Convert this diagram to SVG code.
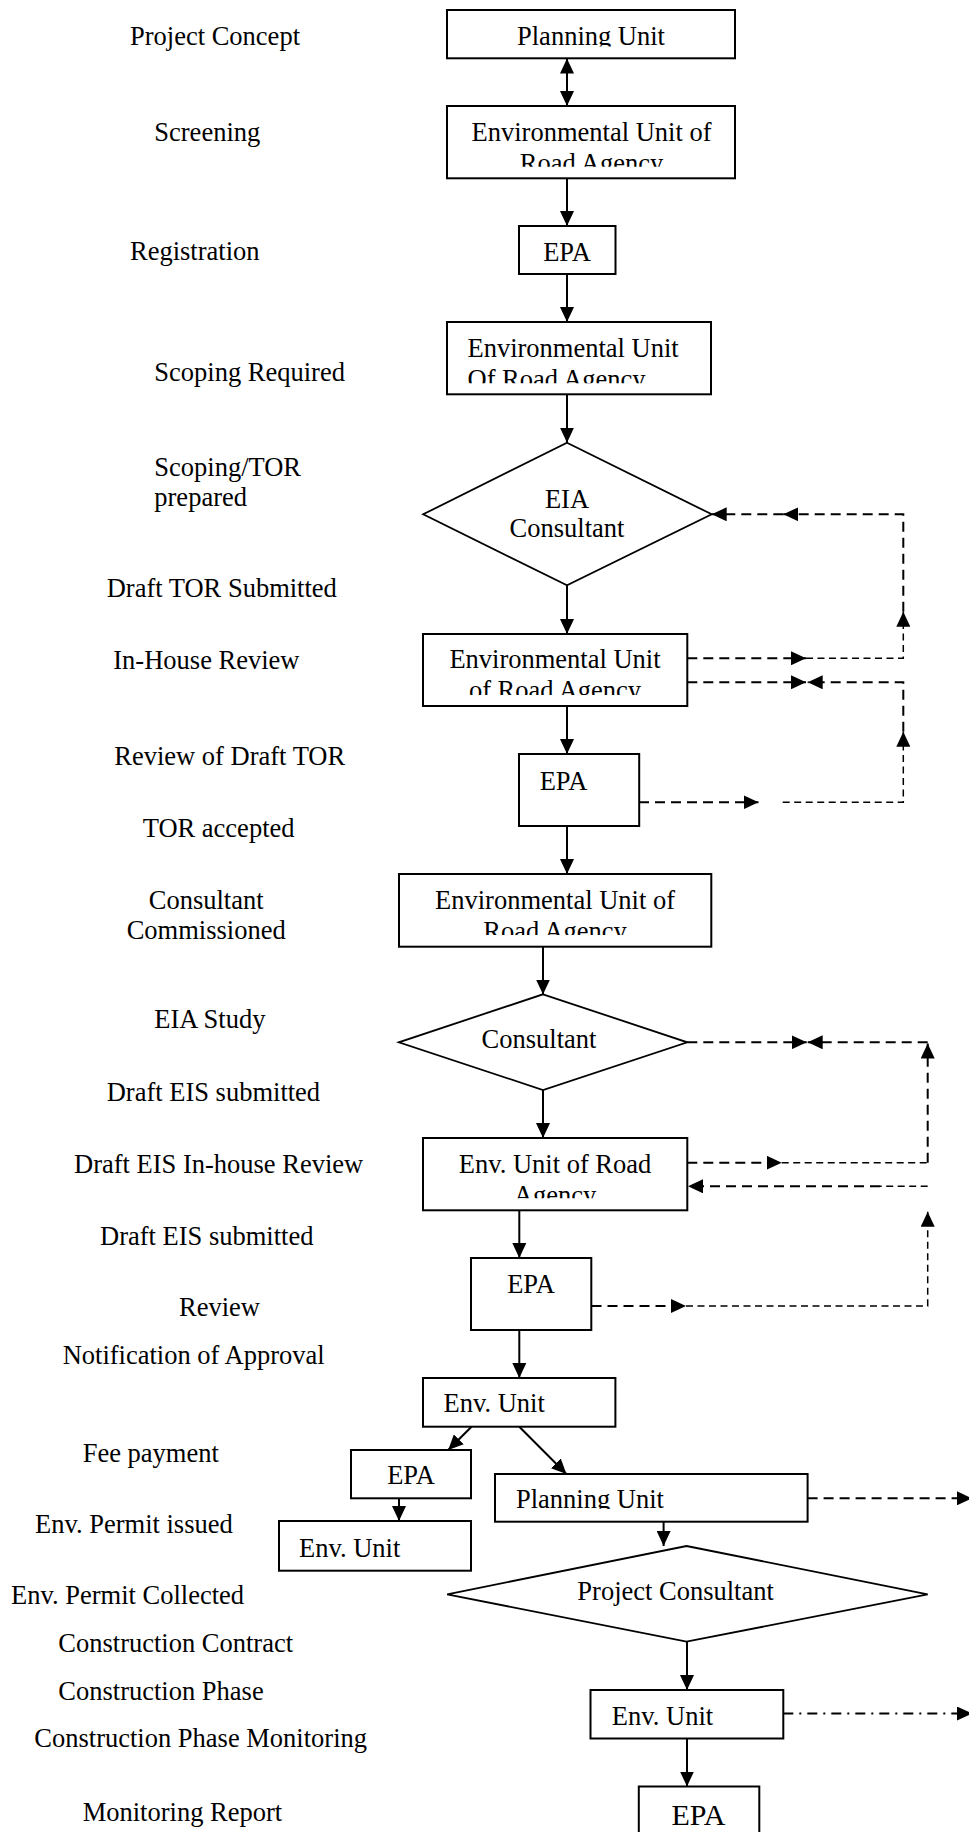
<svg xmlns="http://www.w3.org/2000/svg" width="969" height="1832" viewBox="0 0 969 1832">
  <style>
    text { font-family: "Liberation Serif", "Times New Roman", serif; font-size: 26.5px; fill: #000; }
    .c { text-anchor: middle; }
    .box { fill: #fff; stroke: #000; stroke-width: 2; }
    .dia { fill: #fff; stroke: #000; stroke-width: 1.8; }
    .flow { fill: none; stroke: #000; stroke-width: 2; }
    .dash { fill: none; stroke: #000; stroke-width: 2; stroke-dasharray: 10 6; }
    .thin { fill: none; stroke: #000; stroke-width: 1.5; stroke-dasharray: 7 4.5; }
    .dashdot { fill: none; stroke: #000; stroke-width: 2; stroke-dasharray: 10 6 2 6; }
  </style>
  <defs>
    <marker id="head" markerUnits="userSpaceOnUse" markerWidth="16" markerHeight="14" refX="15" refY="7" orient="auto-start-reverse">
      <path d="M0,0 L15,7 L0,14 z" fill="#000"/>
    </marker>
    <clipPath id="clipTop"><rect x="447" y="10" width="288" height="36.5"/></clipPath>
    <clipPath id="clipE1"><rect x="447" y="106" width="288" height="60.7"/></clipPath>
    <clipPath id="clipE2"><rect x="447" y="322" width="264" height="61.3"/></clipPath>
    <clipPath id="clipE3"><rect x="423" y="634" width="264" height="61"/></clipPath>
    <clipPath id="clipE4"><rect x="399" y="874" width="312" height="61"/></clipPath>
    <clipPath id="clipE5"><rect x="423" y="1138" width="264" height="60.3"/></clipPath>
    <clipPath id="clipPU"><rect x="495" y="1474" width="313" height="35"/></clipPath>
  </defs>

  <!-- stage labels down the left side -->
  <g id="stages">
    <text x="130" y="45">Project Concept</text>
    <text x="154.3" y="140.6">Screening</text>
    <text x="130" y="260">Registration</text>
    <text x="154.3" y="380.6">Scoping Required</text>
    <text x="154.3" y="476.4">Scoping/TOR</text>
    <text x="154.3" y="506.3">prepared</text>
    <text x="106.7" y="597">Draft TOR Submitted</text>
    <text x="113.3" y="668.7">In-House Review</text>
    <text x="114.3" y="765">Review of Draft TOR</text>
    <text x="142.7" y="837">TOR accepted</text>
    <text class="c" x="206.2" y="908.6">Consultant</text>
    <text class="c" x="206.2" y="938.6">Commissioned</text>
    <text x="154.3" y="1027.8">EIA Study</text>
    <text x="106.7" y="1100.9">Draft EIS submitted</text>
    <text x="74" y="1173.4">Draft EIS In-house Review</text>
    <text x="100" y="1244.8">Draft EIS submitted</text>
    <text x="179" y="1316">Review</text>
    <text x="62.7" y="1363.6">Notification of Approval</text>
    <text x="82.7" y="1461.7">Fee payment</text>
    <text x="35" y="1533">Env. Permit issued</text>
    <text x="11" y="1604.4">Env. Permit Collected</text>
    <text x="58.3" y="1652">Construction Contract</text>
    <text x="58.3" y="1699.5">Construction Phase</text>
    <text x="34.3" y="1747">Construction Phase Monitoring</text>
    <text x="82.7" y="1821.3">Monitoring Report</text>
  </g>

  <!-- connectors -->
  <g id="connectors">
    <!-- main solid flow -->
    <line class="flow" x1="567" y1="58.5" x2="567" y2="106" marker-start="url(#head)" marker-end="url(#head)"/>
    <line class="flow" x1="567" y1="178" x2="567" y2="226" marker-end="url(#head)"/>
    <line class="flow" x1="567" y1="274" x2="567" y2="322" marker-end="url(#head)"/>
    <line class="flow" x1="567" y1="394" x2="567" y2="442.7" marker-end="url(#head)"/>
    <line class="flow" x1="567" y1="585.3" x2="567" y2="634" marker-end="url(#head)"/>
    <line class="flow" x1="567" y1="706" x2="567" y2="754" marker-end="url(#head)"/>
    <line class="flow" x1="567" y1="826" x2="567" y2="874" marker-end="url(#head)"/>
    <line class="flow" x1="543" y1="947" x2="543" y2="994.5" marker-end="url(#head)"/>
    <line class="flow" x1="543" y1="1090" x2="543" y2="1138" marker-end="url(#head)"/>
    <line class="flow" x1="519.3" y1="1210" x2="519.3" y2="1258" marker-end="url(#head)"/>
    <line class="flow" x1="519.3" y1="1330" x2="519.3" y2="1378" marker-end="url(#head)"/>
    <line class="flow" x1="471.5" y1="1426.7" x2="448.2" y2="1450" marker-end="url(#head)"/>
    <line class="flow" x1="519.3" y1="1426.7" x2="566.4" y2="1474" marker-end="url(#head)"/>
    <line class="flow" x1="399" y1="1498.3" x2="399" y2="1521" marker-end="url(#head)"/>
    <line class="flow" x1="663.6" y1="1521.7" x2="663.6" y2="1546" marker-end="url(#head)"/>
    <line class="flow" x1="687" y1="1641.7" x2="687" y2="1690" marker-end="url(#head)"/>
    <line class="flow" x1="687" y1="1738.5" x2="687" y2="1786.5" marker-end="url(#head)"/>

    <!-- TOR review loop -->
    <line class="dash" x1="687.3" y1="658.3" x2="806" y2="658.3" marker-end="url(#head)"/>
    <polyline class="thin" points="806,658.3 903.3,658.3 903.3,611.7" marker-end="url(#head)"/>
    <polyline class="dash" points="903.3,611.7 903.3,514.3 783.3,514.3" marker-end="url(#head)"/>
    <line class="dash" x1="783.3" y1="514.3" x2="711.7" y2="514.3" marker-end="url(#head)"/>
    <line class="dash" x1="687.3" y1="682.3" x2="806" y2="682.3" marker-end="url(#head)"/>
    <polyline class="dash" points="903.3,731.7 903.3,682.3 807.7,682.3" marker-end="url(#head)"/>
    <line class="dash" x1="639" y1="802.3" x2="758.5" y2="802.3" marker-end="url(#head)"/>
    <polyline class="thin" points="782.7,802.3 903.3,802.3 903.3,731.7" marker-end="url(#head)"/>

    <!-- EIS review loop -->
    <line class="dash" x1="687.3" y1="1042.3" x2="806.7" y2="1042.3" marker-end="url(#head)"/>
    <line class="dash" x1="927.7" y1="1042.3" x2="807.7" y2="1042.3" marker-end="url(#head)"/>
    <line class="dash" x1="927.7" y1="1162.7" x2="927.7" y2="1043.5" marker-end="url(#head)"/>
    <line class="dash" x1="687.3" y1="1162.7" x2="781.7" y2="1162.7" marker-end="url(#head)"/>
    <line class="thin" x1="781.7" y1="1162.7" x2="927.7" y2="1162.7"/>
    <line class="thin" x1="927.7" y1="1186.3" x2="880" y2="1186.3"/>
    <line class="dash" x1="880" y1="1186.3" x2="688" y2="1186.3" marker-end="url(#head)"/>
    <line class="dash" x1="591.5" y1="1306" x2="686" y2="1306" marker-end="url(#head)"/>
    <polyline class="thin" points="686,1306 927.7,1306 927.7,1211.7" marker-end="url(#head)"/>

    <!-- outgoing links at the right edge -->
    <line class="dash" x1="807.6" y1="1498.3" x2="972" y2="1498.3" marker-end="url(#head)"/>
    <line class="dashdot" x1="783.3" y1="1713.5" x2="972" y2="1713.5" marker-end="url(#head)"/>
  </g>

  <!-- nodes -->
  <g id="planning-unit">
    <rect class="box" x="447" y="10" width="288" height="48.3"/>
    <text class="c" x="591" y="45" clip-path="url(#clipTop)">Planning Unit</text>
  </g>
  <g id="env-unit-screening">
    <rect class="box" x="447" y="106" width="288" height="72.3"/>
    <g clip-path="url(#clipE1)">
      <text class="c" x="591.5" y="140.7">Environmental Unit of</text>
      <text class="c" x="591.5" y="171.7">Road Agency</text>
    </g>
  </g>
  <g id="epa-registration">
    <rect class="box" x="519" y="226" width="96.5" height="48"/>
    <text class="c" x="567" y="261">EPA</text>
  </g>
  <g id="env-unit-scoping">
    <rect class="box" x="447" y="322" width="264" height="72.3"/>
    <g clip-path="url(#clipE2)">
      <text x="467.5" y="356.7">Environmental Unit</text>
      <text x="467.5" y="387.7">Of Road Agency</text>
    </g>
  </g>
  <g id="eia-consultant">
    <polygon class="dia" points="567,442.7 711.7,514.3 567,585.3 423.2,514.3"/>
    <text class="c" x="567" y="507.7">EIA</text>
    <text class="c" x="567" y="537.3">Consultant</text>
  </g>
  <g id="env-unit-review">
    <rect class="box" x="423" y="634" width="264.3" height="72"/>
    <g clip-path="url(#clipE3)">
      <text class="c" x="555" y="668.3">Environmental Unit</text>
      <text class="c" x="555" y="699.3">of Road Agency</text>
    </g>
  </g>
  <g id="epa-tor-review">
    <rect class="box" x="519" y="754" width="120.2" height="72"/>
    <text x="539.7" y="790">EPA</text>
  </g>
  <g id="env-unit-commission">
    <rect class="box" x="399" y="874" width="312.3" height="72.7"/>
    <g clip-path="url(#clipE4)">
      <text class="c" x="555" y="909">Environmental Unit of</text>
      <text class="c" x="555" y="940">Road Agency</text>
    </g>
  </g>
  <g id="consultant">
    <polygon class="dia" points="543,994.3 687.3,1042.3 543,1090 398.8,1042.3"/>
    <text class="c" x="539" y="1048.3">Consultant</text>
  </g>
  <g id="env-unit-eis-review">
    <rect class="box" x="423" y="1138" width="264.3" height="72.3"/>
    <g clip-path="url(#clipE5)">
      <text class="c" x="555" y="1172.7">Env. Unit of Road</text>
      <text class="c" x="555" y="1203.7">Agency</text>
    </g>
  </g>
  <g id="epa-eis-review">
    <rect class="box" x="471" y="1258" width="120.3" height="72"/>
    <text class="c" x="531" y="1293">EPA</text>
  </g>
  <g id="env-unit-approval">
    <rect class="box" x="423" y="1378" width="192.4" height="48.7"/>
    <text x="443.5" y="1412.3">Env. Unit</text>
  </g>
  <g id="epa-fee">
    <rect class="box" x="351" y="1450" width="120" height="48.3"/>
    <text class="c" x="411" y="1484">EPA</text>
  </g>
  <g id="env-unit-permit">
    <rect class="box" x="279" y="1521" width="192" height="49.7"/>
    <text x="299" y="1556.7">Env. Unit</text>
  </g>
  <g id="planning-unit-contract">
    <rect class="box" x="495" y="1474" width="312.6" height="47.7"/>
    <text x="516" y="1508.3" clip-path="url(#clipPU)">Planning Unit</text>
  </g>
  <g id="project-consultant">
    <polygon class="dia" points="686.5,1546 927.7,1594.3 686.5,1641.7 447.2,1594.3"/>
    <text class="c" x="675.6" y="1600">Project Consultant</text>
  </g>
  <g id="env-unit-monitoring">
    <rect class="box" x="590.5" y="1690" width="192.8" height="48.5"/>
    <text x="611.8" y="1724.5">Env. Unit</text>
  </g>
  <g id="epa-report">
    <rect class="box" x="638.8" y="1786.5" width="120.5" height="60"/>
    <text class="c" x="698.4" y="1825" style="font-size:30px">EPA</text>
  </g>
</svg>
